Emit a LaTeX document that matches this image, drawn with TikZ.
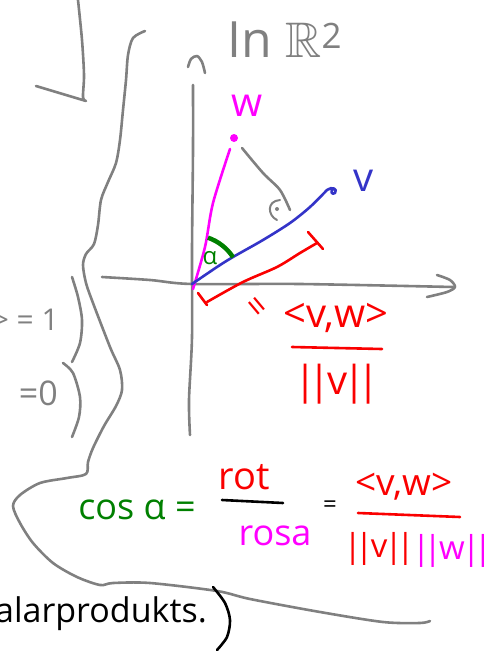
\documentclass[tikz,border=0pt]{standalone}
\usepackage{amssymb}
\usepackage{fontspec}
\setmainfont{Open Sans}
\definecolor{pengray}{RGB}{128,128,128}
\definecolor{penblue}{RGB}{52,52,200}
\definecolor{penred}{RGB}{250,0,0}
\definecolor{pengreen}{RGB}{0,128,0}
\definecolor{penpink}{RGB}{255,0,255}
\newcommand\nrm[1]{|\kern-0.2em|\kern-0.08em#1\kern-0.08em|\kern-0.2em|}
\begin{document}
\begin{tikzpicture}[x=1pt,y=-1pt,
  pen/.style={line width=2.6pt, line cap=round, line join=round},
  hand/.style={inner sep=0pt, font=\fontsize{#1}{#1}\selectfont},
  hand/.default=36]
\useasboundingbox (0,0) rectangle (492,651);
\coordinate (O) at (192,284);
\coordinate (w) at (234,138);
\coordinate (v) at (327,190);
\draw[pen, pengray] plot[smooth] coordinates {(78,0) (82,40) (84,75) (83,97) (86,101)} -- (36,86);
\draw[pen, pengray] plot[smooth] coordinates {(145,31) (133,38) (128,55) (126,80) (123,110) (120,140) (116,163) (108,182) (101,200) (98,225) (94,244) (86,254) (83,265) (86,283) (93,303) (110,347) (120,370) (122,390) (116,406) (104,426) (93,448) (88,462) (86,474) (67,478) (40,483) (20,495) (13,506) (20,523) (33,543) (53,563) (77,577) (100,585) (113,583) (150,583) (217,591) (250,599) (320,612) (383,622) (420,623) (430,621)};
\draw[pen, pengray] plot[smooth] coordinates {(72,277) (78,297) (82,320) (80,343) (72,362)};
\draw[pen, pengray] plot[smooth] coordinates {(63,363) (73,373) (80,397) (79,417) (72,437)};
\node[hand=30, pengray, anchor=east] (one) at (59,320) {> = 1};
\node[hand=34, pengray, anchor=east] (zero) at (58,393) {=0};
\draw[pen, pengray] plot[smooth] coordinates {(190,435) (189,400) (192,337) (192,250) (193,150) (193,85)};
\draw[pen, pengray] plot[smooth] coordinates {(188,67) (191,59) (197,56) (202,62) (205,73)};
\draw[pen, pengray] plot[smooth] coordinates {(102,277) (150,280) (O) (300,284) (453,287)};
\draw[pen, pengray] plot[smooth] coordinates {(437,275) (450,280) (455,287) (447,292) (427,297)};
\node[hand=50, pengray] (title) at (285,40) {In $\mathbb{R}^{\mathrm{2}}$};
\fill[penpink] (w) circle[radius=4];
\node[hand=40, penpink] (wlabel) at (247,106) {w};
\draw[pen, penpink] plot[smooth] coordinates {(193,289) (205,247) (213,203) (230,149)};
\draw[pen, pengray] plot[smooth] coordinates {(242,148) (263,173) (280,190) (290,210)};
\draw[pen, pengray, line width=2pt] (280,200) .. controls (266,201) and (268,216) .. (277,220);
\fill[pengray] (277,209) circle[radius=2];
\draw[pen, penblue] plot[smooth] coordinates {(O) (217,267) (233,257) (263,240) (290,223) (310,207) (v)} .. controls (332,186) and (338,189) .. (335,193) .. controls (332,195) and (330,192) .. (333,189);
\node[hand=40, penblue] (vlabel) at (364,181) {v};
\draw[pengreen, line width=4.5pt] ([shift={(-33:49)}]O) arc[start angle=-33, end angle=-71, radius=49];
\node[hand=24, pengreen] (alpha) at (210,258) {α};
\draw[pen, penred] plot[smooth] coordinates {(207,302) (243,282) (277,267) (300,253) (317,243)};
\draw[pen, penred] (198,293) -- (207,305);
\draw[pen, penred] (308,232) -- (323,249);
\node[hand=34, penred, rotate=-50] (eqa) at (254,309) {=};
\node[hand=40, penred] (ip) at (336,318) {<v,w>};
\draw[pen, penred] (292,347) -- (382,349);
\node[hand=40, penred] (nv) at (337,384) {\nrm{v}};
\node[hand=36, pengreen] (cos) at (137,510) {cos α =};
\node[hand=38, penred] (rot) at (244,477) {rot};
\draw[pen] (222,500) -- (283,503);
\node[hand=36, penpink] (rosa) at (275,536) {rosa};
\node[hand=24] (eqb) at (330,507) {=};
\node[hand=37, penred] (ipb) at (404,487) {<v,w>};
\draw[pen, penred] (358,513) -- (460,517);
\node[hand=33, penred] (nvb) at (379,549) {\nrm{v}};
\node[hand=33, penpink] (nwb) at (452,551) {\nrm{w}};
\node[hand=34, anchor=base east] (skalar) at (207,622) {alarprodukts.};
\draw[pen] plot[smooth] coordinates {(213,587) (225,603) (230,620) (227,637) (217,650)};
\end{tikzpicture}
\end{document}
